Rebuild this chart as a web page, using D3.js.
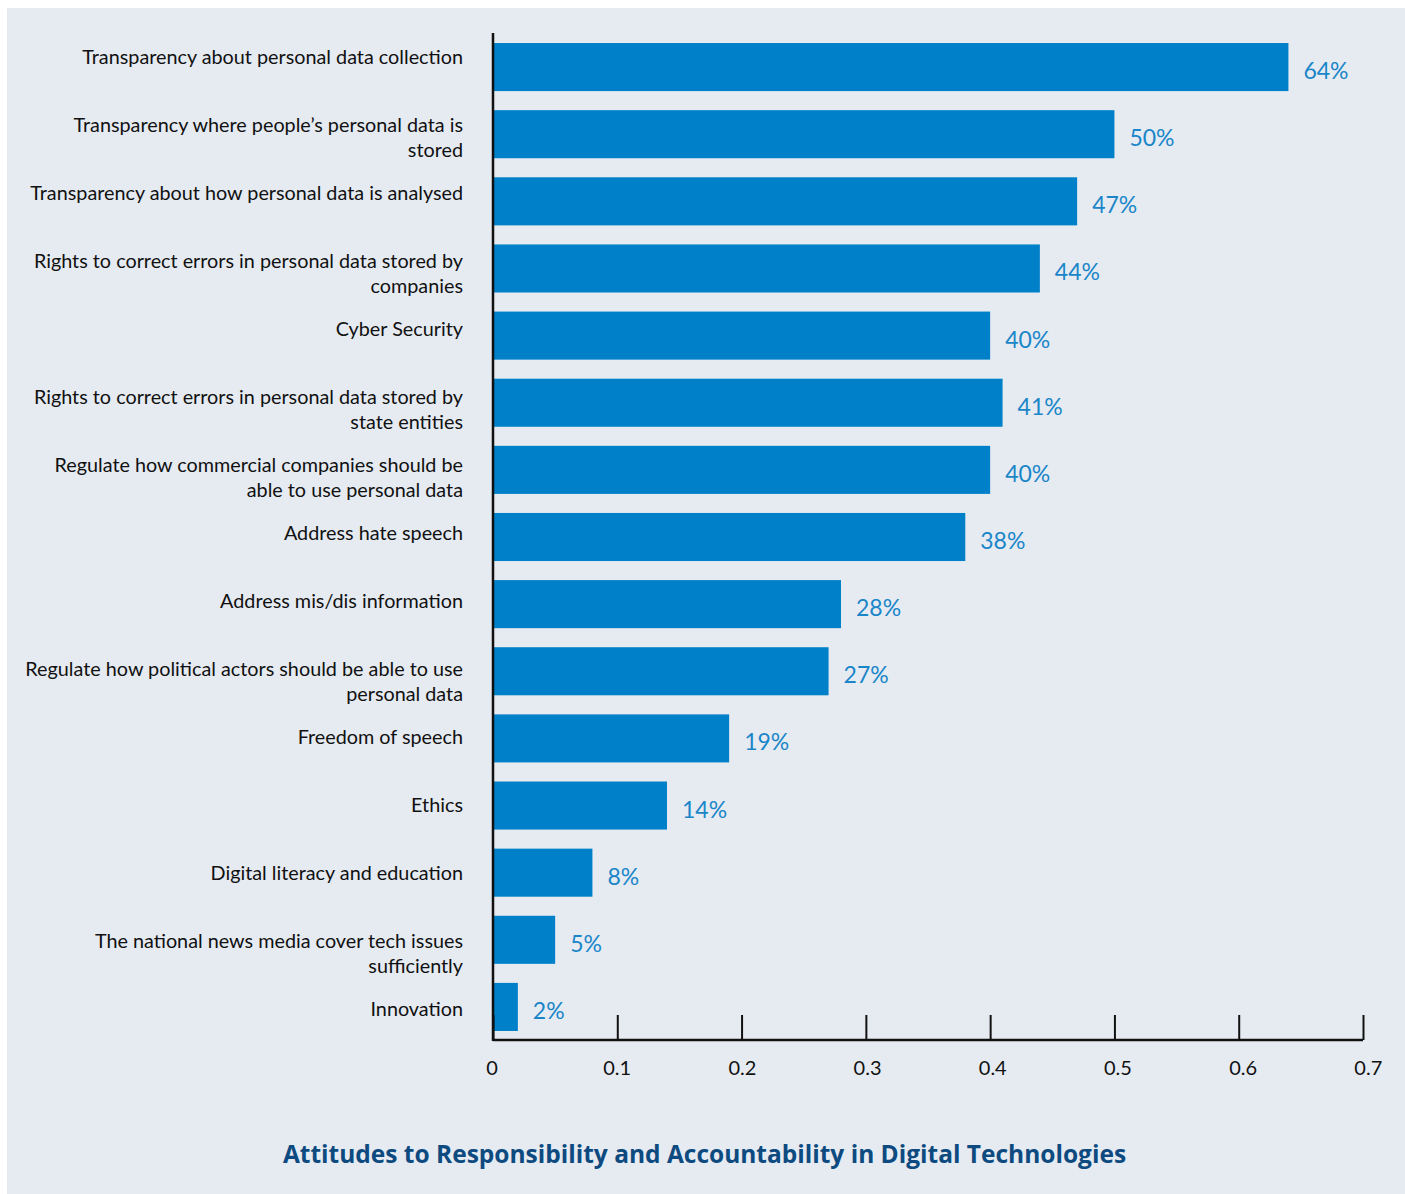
<!DOCTYPE html>
<html>
<head>
<meta charset="utf-8">
<script src="https://cdn.jsdelivr.net/npm/d3@7"></script>
<style>
  html, body { margin: 0; padding: 0; background: #ffffff; }
  svg { display: block; }
</style>
</head>
<body>
<svg id="chart" width="1405" height="1194"></svg>
<script>
// Survey responses: share of respondents naming each area
const categories = [
  "Transparency about personal data collection",
  "Transparency where people\u2019s personal data is stored",
  "Transparency about how personal data is analysed",
  "Rights to correct errors in personal data stored by companies",
  "Cyber Security",
  "Rights to correct errors in personal data stored by state entities",
  "Regulate how commercial companies should be able to use personal data",
  "Address hate speech",
  "Address mis/dis information",
  "Regulate how political actors should be able to use personal data",
  "Freedom of speech",
  "Ethics",
  "Digital literacy and education",
  "The national news media cover tech issues sufficiently",
  "Innovation"
];

// Category labels broken into the lines shown beside the bars
const labelLines = [
  ["Transparency about personal data collection"],
  ["Transparency where people\u2019s personal data is", "stored"],
  ["Transparency about how personal data is analysed"],
  ["Rights to correct errors in personal data stored by", "companies"],
  ["Cyber Security"],
  ["Rights to correct errors in personal data stored by", "state entities"],
  ["Regulate how commercial companies should be", "able to use personal data"],
  ["Address hate speech"],
  ["Address mis/dis information"],
  ["Regulate how political actors should be able to use", "personal data"],
  ["Freedom of speech"],
  ["Ethics"],
  ["Digital literacy and education"],
  ["The national news media cover tech issues", "sufficiently"],
  ["Innovation"]
];

const values = [0.64, 0.50, 0.47, 0.44, 0.40, 0.41, 0.40, 0.38, 0.28, 0.27, 0.19, 0.14, 0.08, 0.05, 0.02];

const xTicks = [0, 0.1, 0.2, 0.3, 0.4, 0.5, 0.6, 0.7];
const xTickLabels = ["0", "0.1", "0.2", "0.3", "0.4", "0.5", "0.6", "0.7"];

const title = "Attitudes to Responsibility and Accountability in Digital Technologies";

const svg = d3.select("#chart");
const W = 1405, H = 1194;

const FONT = "Lato, 'Open Sans', sans-serif";
const TITLE_FONT = "'Open Sans', Lato, sans-serif";
const BAR = "#0080c8";
const VALUE = "#1a86c8";
const INK = "#111111";

// Panel background
svg.append("rect")
  .attr("x", 7).attr("y", 8)
  .attr("width", W - 7).attr("height", H - 8)
  .attr("fill", "#e6ebf2");

const plot = { left: 493, right: 1363, top: 33, bottom: 1040 };

const x = d3.scaleLinear().domain([0, 0.7]).range([plot.left, plot.right]);

const y = d3.scaleBand()
  .domain(categories)
  .range([plot.top + 0.5, plot.bottom + 0.5])
  .paddingInner(0.284)
  .paddingOuter(0.142);

// Category labels sit at the top of their slot
const yLabel = d3.scalePoint()
  .domain(categories)
  .range([55.5, 1007.5]);

// Bars
svg.append("g")
  .selectAll("rect")
  .data(categories)
  .join("rect")
  .attr("x", x(0))
  .attr("y", d => y(d))
  .attr("width", (d, i) => x(values[i]) - x(0))
  .attr("height", y.bandwidth())
  .attr("fill", BAR);

// Value labels
svg.append("g")
  .selectAll("text")
  .data(categories)
  .join("text")
  .attr("x", (d, i) => x(values[i]) + 15)
  .attr("y", d => y(d) + y.bandwidth() / 2 + 3)
  .attr("dominant-baseline", "central")
  .attr("font-family", FONT)
  .attr("font-size", 23)
  .attr("fill", VALUE)
  .text((d, i) => d3.format(".0%")(values[i]));

// Category labels
const lab = svg.append("g")
  .selectAll("text")
  .data(categories)
  .join("text")
  .attr("text-anchor", "end")
  .attr("font-family", FONT)
  .attr("font-size", 19.8)
  .attr("fill", INK);

lab.each(function (d, i) {
  const t = d3.select(this);
  labelLines[i].forEach((line, j) => {
    t.append("tspan")
      .attr("x", 463)
      .attr("y", yLabel(d) + j * 25.5)
      .attr("dominant-baseline", "central")
      .text(line);
  });
});

// X axis with upward ticks
const xAxis = d3.axisBottom(x)
  .tickValues(xTicks)
  .tickSize(-25)
  .tickPadding(0)
  .tickFormat((d, i) => xTickLabels[i]);

const gx = svg.append("g")
  .attr("transform", `translate(0,${plot.bottom})`)
  .call(xAxis);

gx.select(".domain")
  .attr("d", `M${plot.left},0H${plot.right}`)
  .attr("stroke", INK)
  .attr("stroke-width", 2.5);
gx.selectAll(".tick line")
  .attr("stroke", INK)
  .attr("stroke-width", 2);
gx.selectAll(".tick text")
  .attr("x", (d, i) => i * 0.9 - 1.5)
  .attr("y", 27)
  .attr("dy", 0)
  .attr("dominant-baseline", "central")
  .attr("font-family", FONT)
  .attr("font-size", 20)
  .attr("fill", INK);

// Vertical category axis line
svg.append("line")
  .attr("x1", plot.left).attr("x2", plot.left)
  .attr("y1", plot.top).attr("y2", plot.bottom + 1)
  .attr("stroke", INK)
  .attr("stroke-width", 2.5);

// Chart title
svg.append("text")
  .attr("x", 704.5)
  .attr("y", 1153)
  .attr("text-anchor", "middle")
  .attr("dominant-baseline", "central")
  .attr("font-family", TITLE_FONT)
  .attr("font-weight", 700)
  .attr("font-size", 24.5)
  .attr("fill", "#0d4a80")
  .text(title);
</script>
</body>
</html>
